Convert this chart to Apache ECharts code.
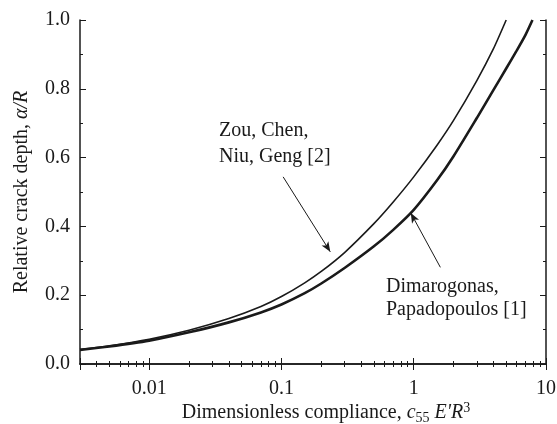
<!DOCTYPE html>
<html>
<head>
<meta charset="utf-8">
<script src="https://cdn.jsdelivr.net/npm/echarts@6/dist/echarts.min.js"></script>
<style>
  html, body { margin: 0; padding: 0; background: #fff; }
  #chart { width: 557px; height: 424px; }
</style>
</head>
<body>
<div id="chart"></div>
<script>
// compliance values (x, log scale)
const compliance = [0.003, 0.005, 0.01, 0.02, 0.04, 0.07, 0.1, 0.15, 0.2, 0.3, 0.5, 0.7, 1, 1.5, 2, 3, 4, 5, 6, 7, 7.9];
// relative crack depth
const zouDepth = [0.042, 0.053, 0.072, 0.098, 0.132, 0.167, 0.196, 0.236, 0.269, 0.324, 0.408, 0.471, 0.544, 0.636, 0.708, 0.824, 0.916, 1.0, null, null, null];
const dimDepth = [0.041, 0.051, 0.068, 0.092, 0.121, 0.150, 0.173, 0.206, 0.234, 0.279, 0.342, 0.390, 0.448, 0.534, 0.604, 0.715, 0.796, 0.859, 0.911, 0.957, 1.0];
const xLabels = ['0.01', '0.1', '1', '10'];

const serif = 'Liberation Serif';
const ink = '#1a1a1a';

const pairs = (ys) => compliance.map((x, i) => [x, ys[i]]).filter(p => p[1] !== null);

const chart = echarts.init(document.getElementById('chart'), null, { renderer: 'canvas' });

const xBase = {
  type: 'log', logBase: 10, min: 0.003, max: 10,
  axisLine: { show: true, lineStyle: { color: ink, width: 1.5 } },
  axisTick: { show: true, inside: true, length: 6, lineStyle: { color: ink, width: 1 } },
  minorTick: { show: true, splitNumber: 9, length: 3, lineStyle: { color: ink, width: 1 } },
  splitLine: { show: false },
  minorSplitLine: { show: false }
};
const yBase = {
  type: 'value', min: 0, max: 1, interval: 0.2,
  axisLine: { show: true, lineStyle: { color: ink, width: 1.5 } },
  axisTick: { show: true, inside: true, length: 6, lineStyle: { color: ink, width: 1 } },
  minorTick: { show: true, splitNumber: 2, length: 3, lineStyle: { color: ink, width: 1 } },
  splitLine: { show: false }
};

chart.setOption({
  animation: false,
  backgroundColor: '#fff',
  textStyle: { fontFamily: serif },
  grid: { left: 80, right: 11, top: 20, bottom: 60, containLabel: false, outerBoundsMode: 'none' },
  xAxis: [
    Object.assign({}, xBase, {
      position: 'bottom',
      name: 'Dimensionless compliance, {i|c}{sub|55} {i|E\'R}{sup|3}',
      nameLocation: 'middle',
      nameGap: 37,
      nameMoveOverlap: false,
      nameTextStyle: {
        color: ink, fontFamily: serif, fontSize: 20, lineHeight: 24,
        padding: [0, 0, 0, 26],
        rich: {
          i: { fontFamily: serif, fontSize: 20, fontStyle: 'italic', color: ink },
          sub: { fontFamily: serif, fontSize: 14, color: ink, verticalAlign: 'bottom' },
          sup: { fontFamily: serif, fontSize: 14, color: ink, verticalAlign: 'top' }
        }
      },
      axisLabel: {
        color: ink, fontFamily: serif, fontSize: 20, margin: 15,
        formatter: (v) => {
          const s = String(+v.toPrecision(6));
          return xLabels.indexOf(s) >= 0 ? s : '';
        }
      }
    }),
    Object.assign({}, xBase, { position: 'top', axisLabel: { show: false } })
  ],
  yAxis: [
    Object.assign({}, yBase, {
      position: 'left',
      name: 'Relative crack depth, {i|α/R}',
      nameLocation: 'middle',
      nameRotate: 90,
      nameGap: 48,
      nameTextStyle: {
        color: ink, fontFamily: serif, fontSize: 20,
        rich: { i: { fontFamily: serif, fontSize: 20, fontStyle: 'italic', color: ink } }
      },
      axisLabel: { color: ink, fontFamily: serif, fontSize: 20, margin: 10, formatter: (v) => v.toFixed(1) }
    }),
    Object.assign({}, yBase, { position: 'right', axisLabel: { show: false } })
  ],
  series: [
    {
      name: 'Zou, Chen, Niu, Geng [2]',
      type: 'line', xAxisIndex: 0, yAxisIndex: 0,
      data: pairs(zouDepth),
      smooth: 0.25, showSymbol: false, silent: true,
      lineStyle: { color: ink, width: 1.6 },
      markLine: {
        silent: true, symbol: ['none', 'arrow'], symbolSize: [6, 10],
        label: { show: false },
        lineStyle: { color: ink, width: 1, type: 'solid' },
        data: [
          [{ coord: [0.103, 0.544] }, { coord: [0.234, 0.326] }],
          [{ coord: [1.59, 0.281] }, { coord: [0.95, 0.439] }]
        ]
      }
    },
    {
      name: 'Dimarogonas, Papadopoulos [1]',
      type: 'line', xAxisIndex: 0, yAxisIndex: 0,
      data: pairs(dimDepth),
      smooth: 0.25, showSymbol: false, silent: true,
      lineStyle: { color: ink, width: 2.6 }
    }
  ],
  graphic: [
    {
      type: 'text', left: 219, top: 118,
      style: { text: 'Zou, Chen,\nNiu, Geng [2]', fontFamily: serif, fontSize: 20, fill: ink, lineHeight: 26 }
    },
    {
      type: 'text', left: 386, top: 275,
      style: { text: 'Dimarogonas,\nPapadopoulos [1]', fontFamily: serif, fontSize: 20, fill: ink, lineHeight: 23 }
    }
  ]
});
</script>
</body>
</html>
